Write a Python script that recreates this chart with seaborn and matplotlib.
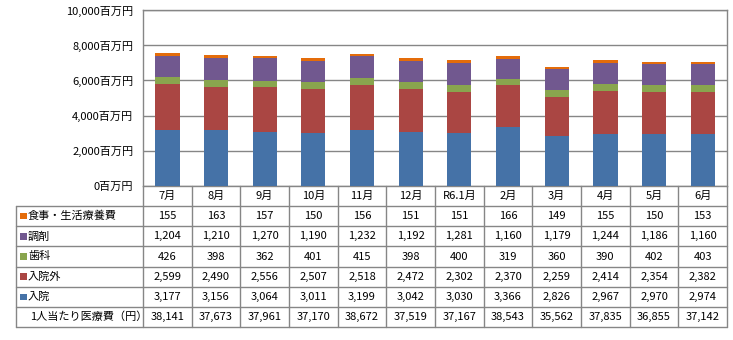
import matplotlib
matplotlib.use("Agg")
import matplotlib.pyplot as plt
import seaborn as sns
import pandas as pd
import numpy as np

months = ["7月", "8月", "9月", "10月", "11月", "12月", "R6.1月", "2月", "3月", "4月", "5月", "6月"]
nyuin = [3177, 3156, 3064, 3011, 3199, 3042, 3030, 3366, 2826, 2967, 2970, 2974]
nyuingai = [2599, 2490, 2556, 2507, 2518, 2472, 2302, 2370, 2259, 2414, 2354, 2382]
shika = [426, 398, 362, 401, 415, 398, 400, 319, 360, 390, 402, 403]
chozai = [1204, 1210, 1270, 1190, 1232, 1192, 1281, 1160, 1179, 1244, 1186, 1160]
shokuji = [155, 163, 157, 150, 156, 151, 151, 166, 149, 155, 150, 153]
per_person = [38141, 37673, 37961, 37170, 38672, 37519, 37167, 38543, 35562, 37835, 36855, 37142]
yticks = [0, 2000, 4000, 6000, 8000, 10000]

series_names = ["入院", "入院外", "歯科", "調剤", "食事・生活療養費"]
series_vals = [nyuin, nyuingai, shika, chozai, shokuji]
colors = ["#4572A7", "#AA4643", "#89A54E", "#71588F", "#E46C0A"]

sns.set_theme(style="white")
plt.rcParams["font.family"] = ["Noto Sans CJK JP", "DejaVu Sans"]

W, H = 733, 340
fig = plt.figure(figsize=(W / 100, H / 100), dpi=100)

ax_l, ax_r, ax_t, ax_b = 143, 727, 10, 186
ax = fig.add_axes([ax_l / W, 1 - ax_b / H, (ax_r - ax_l) / W, (ax_b - ax_t) / H])

df = pd.DataFrame({"month": months})
cum = np.zeros(len(months))
cums = []
for v in series_vals:
    cum = cum + np.array(v)
    cums.append(cum.copy())

for i in range(len(series_vals) - 1, -1, -1):
    df["val"] = cums[i]
    sns.barplot(data=df, x="month", y="val", order=months, color=colors[i],
                saturation=1, width=0.5, ax=ax, linewidth=0, zorder=3)

gridc = "#868686"
ax.set_xlim(-0.5, len(months) - 0.5)
ax.set_ylim(0, 10000)
ax.set_yticks(yticks)
ax.set_yticklabels([f"{v:,}百万円" for v in yticks], fontsize=8, color="black")
ax.tick_params(axis="y", length=0, pad=7)
ax.set_xticks([])
ax.set_xlabel("")
ax.set_ylabel("")
for y in yticks:
    ax.axhline(y, color=gridc, lw=1, zorder=1)
for s in ["left", "right", "top", "bottom"]:
    ax.spines[s].set_visible(True)
    ax.spines[s].set_color(gridc)
    ax.spines[s].set_linewidth(1)

# table
t_l, t_r, t_t, t_b = 16, 727, 186, 327
tax = fig.add_axes([t_l / W, 1 - t_b / H, (t_r - t_l) / W, (t_b - t_t) / H])
unit = (ax_r - ax_l) / len(months)
x0 = -0.5 - (ax_l - t_l) / unit
tax.set_xlim(x0, len(months) - 0.5)
tax.set_ylim(7, 0)
tax.axis("off")

row_px = (t_b - t_t) / 7
lw = 1
for r in range(1, 8):
    tax.plot([x0, len(months) - 0.5], [r, r], color=gridc, lw=lw, clip_on=False)
tax.plot([x0, x0], [1, 7], color=gridc, lw=lw, clip_on=False)
for c in range(len(months) + 1):
    xc = c - 0.5
    tax.plot([xc, xc], [0, 7], color=gridc, lw=lw, clip_on=False)

for j, m in enumerate(months):
    tax.text(j, 0.5, m, ha="center", va="center", fontsize=8, color="black")

rows = [
    (series_names[4], shokuji, colors[4]),
    (series_names[3], chozai, colors[3]),
    (series_names[2], shika, colors[2]),
    (series_names[1], nyuingai, colors[1]),
    (series_names[0], nyuin, colors[0]),
    ("1人当たり医療費（円）", per_person, None),
]
sq_w = 6.5 / unit
sq_h = 6.5 / row_px
for r, (name, vals, col) in enumerate(rows, start=1):
    yc = r + 0.5
    if col is not None:
        tax.add_patch(plt.Rectangle((x0 + 4 / unit, yc - sq_h / 2), sq_w, sq_h, color=col, lw=0))
        tax.text(x0 + 12 / unit, yc, name, ha="left", va="center", fontsize=8, color="black")
    else:
        tax.text(x0 + 14 / unit, yc, name, ha="left", va="center", fontsize=8, color="black")
    for j, v in enumerate(vals):
        tax.text(j, yc, f"{v:,}", ha="center", va="center", fontsize=8, color="black")

fig.savefig("out.png", dpi=100)
